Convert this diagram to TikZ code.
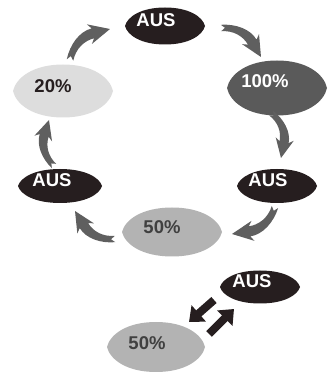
\documentclass[tikz,border=0pt]{standalone}
\usepackage{fontspec}
\setmainfont{Liberation Sans}
\usetikzlibrary{calc,arrows.meta}
\definecolor{nblack}{HTML}{261E1F}
\definecolor{ndark}{HTML}{5A5A5A}
\definecolor{nlight}{HTML}{DDDDDD}
\definecolor{nmid}{HTML}{B3B3B3}
\definecolor{agray}{HTML}{5F5F5F}
\tikzset{
  lbl/.style={inner sep=0pt,font=\fontsize{18.5}{20}\selectfont\bfseries},
  curvarr/.pic={\fill[agray] (0.061,0.051) -- (-0.042,0.050)
     .. controls (0.188,0.243) and (0.491,0.332) .. (0.720,0.232)
     -- (0.696,0.351) -- (1,0) -- (0.536,-0.015) -- (0.640,0.048)
     .. controls (0.457,0.128) and (0.234,0.111) .. (0.042,-0.050) -- cycle;},
  blockarr/.style={draw=nblack,line width=8pt,-{Triangle[width=21pt,length=13pt]}}
}
% name, x, y, w, h, fill colour
\newcommand\lemon[6]{%
  \fill[#6,shift={(#2,#3)},xscale=#4,yscale=#5]
    (-0.5,0) .. controls (-0.47,0.25) and (-0.3,0.5) .. (0,0.5)
    .. controls (0.3,0.5) and (0.47,0.25) .. (0.5,0)
    .. controls (0.47,-0.25) and (0.3,-0.5) .. (0,-0.5)
    .. controls (-0.3,-0.5) and (-0.47,-0.25) .. (-0.5,0) -- cycle;
  \node[shape=rectangle,minimum width=#4pt,minimum height=#5pt,inner sep=0pt] (#1) at (#2,#3) {};}
\newcommand\carr[2]{%
  \path let \p1=($(#2)-(#1)$) in (#1) pic[rotate={atan2(\y1,\x1)},scale={veclen(\x1,\y1)}] {curvarr};}
\begin{document}
\begin{tikzpicture}[x=1pt,y=1pt]
\useasboundingbox (0,0) rectangle (334,372);
\lemon{ausT}{165}{346}{80}{37}{nblack}
\lemon{p100}{277}{284}{100}{55}{ndark}
\lemon{p20}{63}{281}{100}{53}{nlight}
\lemon{ausL}{60}{186}{84}{34}{nblack}
\lemon{ausR}{277}{186}{80}{34}{nblack}
\lemon{p50}{172}{140}{100}{49}{nmid}
\lemon{ausB}{260}{85}{80}{33}{nblack}
\lemon{p50b}{156}{25}{98}{50}{nmid}
\node[lbl,text=white] (tausT) at ($(ausT)+(-9,6)$) {AUS};
\node[lbl,text=white] (tp100) at ($(p100)+(-12,7)$) {100\%};
\node[lbl,text=nblack] (tp20) at ($(p20)+(-10,5)$) {20\%};
\node[lbl,text=white] (tausL) at ($(ausL)+(-8,6)$) {AUS};
\node[lbl,text=white] (tausR) at ($(ausR)+(-9,6)$) {AUS};
\node[lbl,text=black!75] (tp50) at ($(p50)+(-10,5)$) {50\%};
\node[lbl,text=white] (tausB) at ($(ausB)+(-8,6)$) {AUS};
\node[lbl,text=black!75] (tp50b) at ($(p50b)+(-9,4)$) {50\%};
% curved arrows: tail / tip coordinates
\coordinate (a1s) at (70,312);  \coordinate (a1e) at (110,343);
\coordinate (a2s) at (221,344); \coordinate (a2e) at (261,315);
\coordinate (a3s) at (271,259); \coordinate (a3e) at (281,214);
\coordinate (a4s) at (54,206);  \coordinate (a4e) at (49,252);
\coordinate (a5s) at (275,165); \coordinate (a5e) at (232,138);
\coordinate (a6s) at (115,133); \coordinate (a6e) at (75,161);
\carr{a1s}{a1e}
\carr{a2s}{a2e}
\carr{a3s}{a3e}
\carr{a4s}{a4e}
\carr{a5s}{a5e}
\carr{a6s}{a6e}
% block arrows
\coordinate (b1s) at (214,72);  \coordinate (b1e) at (189,50);
\coordinate (b2s) at (209,38);  \coordinate (b2e) at (234,63);
\draw[blockarr] (b1s) -- (b1e);
\draw[blockarr] (b2s) -- (b2e);
\end{tikzpicture}
\end{document}
